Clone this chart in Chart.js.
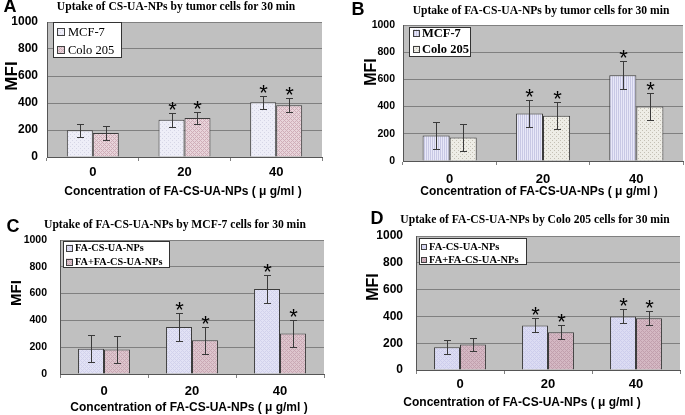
<!DOCTYPE html>
<html>
<head>
<meta charset="utf-8">
<script src="https://cdn.jsdelivr.net/npm/chart.js@4.4.1/dist/chart.umd.min.js"></script>
<style>
  body { margin: 0; background: #fff; width: 685px; height: 415px; position: relative; overflow: hidden; }
  canvas { position: absolute; }
</style>
</head>
<body>
<canvas id="chartA" width="340" height="200" style="left:0;top:0"></canvas>
<canvas id="chartB" width="345" height="200" style="left:340px;top:0"></canvas>
<canvas id="chartC" width="340" height="215" style="left:0;top:200px"></canvas>
<canvas id="chartD" width="345" height="215" style="left:340px;top:200px"></canvas>
<script>
// concentrations (ug/ml)
const categories = ['0', '20', '40'];
const yTicks = [0, 200, 400, 600, 800, 1000];

// A: CS-UA-NPs, tumor cells
const mcfA = [198, 276, 405];
const mcfAErr = [50, 51, 50];
const coloA = [178, 288, 383];
const coloAErr = [50, 46, 52];

// B: FA-CS-UA-NPs, tumor cells
const mcfB = [187, 350, 631];
const mcfBErr = [100, 101, 102];
const coloB = [172, 332, 401];
const coloBErr = [100, 100, 100];

// C: MCF-7, with / without free FA
const npC = [188, 351, 634];
const npCErr = [102, 101, 102];
const faC = [183, 251, 303];
const faCErr = [102, 102, 102];

// D: Colo 205, with / without free FA
const npD = [170, 333, 400];
const npDErr = [52, 52, 52];
const faD = [190, 281, 386];
const faDErr = [50, 52, 52];

// significance marks (*)
const sigFirst = [false, true, true];
const sigSecond = [false, true, true];

const SANS = "'Liberation Sans', Arial, sans-serif";
const SERIF = "'Liberation Serif', 'Times New Roman', serif";

Chart.defaults.font.family = SANS;
Chart.defaults.color = '#000';

// layout of each panel
const panels = {
  chartA: {
    w: 340, h: 200, plot: { left: 47, right: 322, top: 22, bottom: 157 }, cat: 0.567,
    yTickSize: 12, yTickPad: 9, xTickPad: 4,
    letter: { text: 'A', x: 10, y: 7 },
    title: { text: 'Uptake of CS-UA-NPs by tumor cells for 30 min', x: 176, y: 7 },
    yTitle: { x: 12, y: 76, size: 17 },
    xTitle: { x: 183, y: 192 },
    legend: { x: 53, y: 22, w: 69, h: 36, rows: [32, 50], sx: 57, sw: 8, tx: 68, font: '12.5px ' + SERIF }
  },
  chartB: {
    w: 345, h: 200, plot: { left: 63, right: 343, top: 25, bottom: 161 }, cat: 0.58,
    yTickSize: 10.5, yTickPad: 8, xTickPad: 7,
    letter: { text: 'B', x: 18, y: 10 },
    title: { text: 'Uptake of FA-CS-UA-NPs by tumor cells for 30 min', x: 201, y: 11 },
    yTitle: { x: 32, y: 72, size: 16 },
    xTitle: { x: 199, y: 192 },
    legend: { x: 69, y: 27, w: 62, h: 30, rows: [33, 49], sx: 73, sw: 7, tx: 82, font: 'bold 12.5px ' + SERIF }
  },
  chartC: {
    w: 340, h: 215, plot: { left: 60, right: 324, top: 40, bottom: 174 }, cat: 0.59,
    yTickSize: 10.5, yTickPad: 13, xTickPad: 6,
    letter: { text: 'C', x: 13, y: 27 },
    title: { text: 'Uptake of FA-CS-UA-NPs by MCF-7 cells for 30 min', x: 175, y: 25 },
    yTitle: { x: 17, y: 93, size: 15 },
    xTitle: { x: 189, y: 208 },
    legend: { x: 63, y: 41, w: 107, h: 27, rows: [48, 62], sx: 66, sw: 7, tx: 75, font: 'bold 10.25px ' + SERIF }
  },
  chartD: {
    w: 345, h: 215, plot: { left: 76, right: 340, top: 36, bottom: 170 }, cat: 0.59,
    yTickSize: 12, yTickPad: 13, xTickPad: 3,
    letter: { text: 'D', x: 37, y: 19 },
    title: { text: 'Uptake of FA-CS-UA-NPs by Colo 205 cells for 30 min', x: 195, y: 20 },
    yTitle: { x: 34, y: 87, size: 16 },
    xTitle: { x: 182, y: 203 },
    legend: { x: 79, y: 38, w: 108, h: 27, rows: [47, 60], sx: 81, sw: 6, tx: 89, font: 'bold 10.5px ' + SERIF }
  }
};

// small repeating fills like the old Excel bar patterns
function texture(base, ink, kind) {
  const c = document.createElement('canvas');
  c.width = 4; c.height = 4;
  const g = c.getContext('2d');
  g.fillStyle = base;
  g.fillRect(0, 0, 4, 4);
  g.fillStyle = ink;
  if (kind === 'dots') {
    g.fillRect(0, 0, 1, 1); g.fillRect(2, 2, 1, 1);
  } else if (kind === 'stripes') {
    g.fillRect(0, 0, 1, 4); g.fillRect(2, 0, 1, 4);
  } else {
    g.fillRect(0, 0, 1, 1); g.fillRect(1, 1, 1, 1); g.fillRect(2, 2, 1, 1); g.fillRect(3, 3, 1, 1);
    g.fillRect(3, 1, 1, 1); g.fillRect(1, 3, 1, 1);
  }
  return g.createPattern(c, 'repeat');
}

// grey plot area, error bars, stars, titles and the boxed legend
const decor = {
  id: 'decor',
  beforeDraw(chart) {
    const { ctx, chartArea: a } = chart;
    ctx.save();
    ctx.fillStyle = '#c0c0c0';
    ctx.fillRect(a.left, a.top, a.right - a.left, a.bottom - a.top);
    ctx.restore();
  },
  afterDatasetsDraw(chart) {
    const { ctx } = chart;
    const y = chart.scales.y;
    ctx.save();
    chart.data.datasets.forEach((ds, i) => {
      chart.getDatasetMeta(i).data.forEach((bar, j) => {
        const v = ds.data[j], e = ds.errors[j];
        const x = Math.round(bar.x) + 0.5;
        const top = Math.round(y.getPixelForValue(v + e)) + 0.5;
        const bot = Math.round(y.getPixelForValue(v - e)) + 0.5;
        ctx.strokeStyle = '#3a3a3a';
        ctx.lineWidth = 1;
        ctx.beginPath();
        ctx.moveTo(x, top); ctx.lineTo(x, bot);
        ctx.moveTo(x - 3.5, top); ctx.lineTo(x + 3.5, top);
        ctx.moveTo(x - 3.5, bot); ctx.lineTo(x + 3.5, bot);
        ctx.stroke();
        if (ds.stars[j]) {
          ctx.fillStyle = '#000';
          ctx.font = '22px ' + SANS;
          ctx.textAlign = 'center';
          ctx.textBaseline = 'alphabetic';
          ctx.fillText('*', x, top + 3);
        }
      });
    });
    ctx.restore();
  },
  afterDraw(chart) {
    const p = panels[chart.canvas.id];
    const { ctx } = chart;
    ctx.save();
    ctx.fillStyle = '#000';
    ctx.textBaseline = 'middle';
    ctx.textAlign = 'center';

    ctx.font = 'bold 18px ' + SANS;
    ctx.fillText(p.letter.text, p.letter.x, p.letter.y);

    ctx.font = 'bold 11.6px ' + SERIF;
    ctx.fillText(p.title.text, p.title.x, p.title.y);

    ctx.font = 'bold 12px ' + SANS;
    ctx.fillText('Concentration of FA-CS-UA-NPs ( \u03bc g/ml )', p.xTitle.x, p.xTitle.y);

    ctx.save();
    ctx.translate(p.yTitle.x, p.yTitle.y);
    ctx.rotate(-Math.PI / 2);
    ctx.font = 'bold ' + p.yTitle.size + 'px ' + SANS;
    ctx.fillText('MFI', 0, 0);
    ctx.restore();

    const lg = p.legend;
    ctx.fillStyle = '#fff';
    ctx.fillRect(lg.x, lg.y, lg.w, lg.h);
    ctx.strokeStyle = '#333';
    ctx.lineWidth = 1;
    ctx.strokeRect(lg.x + 0.5, lg.y + 0.5, lg.w - 1, lg.h - 1);
    ctx.textAlign = 'left';
    ctx.font = lg.font;
    chart.data.datasets.forEach((ds, i) => {
      const ry = lg.rows[i];
      ctx.fillStyle = ds.backgroundColor;
      ctx.fillRect(lg.sx, ry - lg.sw / 2, lg.sw, lg.sw);
      ctx.strokeStyle = '#404040';
      ctx.strokeRect(lg.sx + 0.5, Math.round(ry - lg.sw / 2) + 0.5, lg.sw - 1, lg.sw - 1);
      ctx.fillStyle = '#000';
      ctx.fillText(ds.label, lg.tx, ry + 0.5);
    });
    ctx.restore();
  }
};

function series(label, values, errors, stars, fill) {
  return { label, data: values, errors, stars, backgroundColor: fill,
           borderColor: '#3c3c3c', borderWidth: 1 };
}

function buildPanel(id, datasets) {
  const p = panels[id];
  datasets.forEach(d => { d.categoryPercentage = p.cat; d.barPercentage = 1; });
  return new Chart(document.getElementById(id), {
    type: 'bar',
    data: { labels: categories, datasets },
    options: {
      responsive: false,
      animation: false,
      layout: { padding: { top: p.plot.top, right: p.w - p.plot.right, bottom: 0, left: 0 } },
      plugins: { legend: { display: false }, tooltip: { enabled: false } },
      scales: {
        x: {
          grid: { drawOnChartArea: false, drawTicks: true, tickLength: 4, color: '#808080' },
          border: { color: '#555' },
          ticks: { font: { size: 13, weight: 'bold' }, padding: p.xTickPad },
          afterFit: s => { s.height = p.h - p.plot.bottom; }
        },
        y: {
          min: 0, max: 1000,
          afterBuildTicks: s => { s.ticks = yTicks.map(v => ({ value: v })); },
          ticks: { font: { size: p.yTickSize, weight: 'bold' }, padding: p.yTickPad, callback: v => String(v) },
          grid: { color: '#808080', drawTicks: false },
          border: { color: '#555' },
          afterFit: s => { s.width = p.plot.left; }
        }
      }
    },
    plugins: [decor]
  });
}

buildPanel('chartA', [
  series('MCF-7', mcfA, mcfAErr, sigFirst, texture('#eeeef8', '#d6d6e6', 'dots')),
  series('Colo 205', coloA, coloAErr, sigSecond, texture('#e8d4da', '#cfadb8', 'hatch'))
]);
buildPanel('chartB', [
  series('MCF-7', mcfB, mcfBErr, sigFirst, texture('#e8e8f8', '#c8c8e4', 'stripes')),
  series('Colo 205', coloB, coloBErr, sigSecond, texture('#eeede6', '#c4c0b4', 'dots'))
]);
buildPanel('chartC', [
  series('FA-CS-UA-NPs', npC, npCErr, sigFirst, texture('#e2e2f5', '#d2d2ec', 'hatch')),
  series('FA+FA-CS-UA-NPs', faC, faCErr, sigSecond, texture('#ddc5cd', '#c9a8b4', 'hatch'))
]);
buildPanel('chartD', [
  series('FA-CS-UA-NPs', npD, npDErr, sigFirst, texture('#dcdcf3', '#cdcdec', 'hatch')),
  series('FA+FA-CS-UA-NPs', faD, faDErr, sigSecond, texture('#d4b8c3', '#c19fad', 'hatch'))
]);
</script>
</body>
</html>
